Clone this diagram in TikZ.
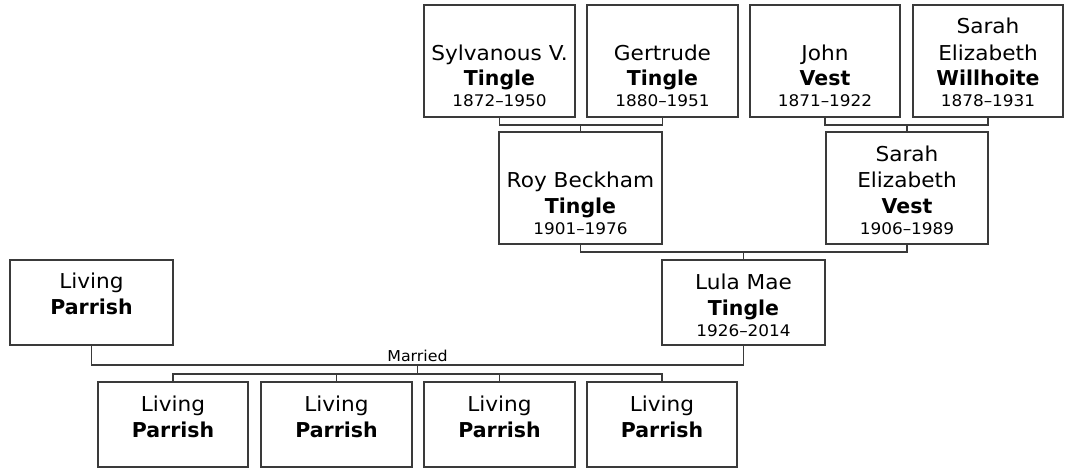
\documentclass[tikz,border=0pt]{standalone}
\usepackage{fontspec}
\setmainfont{DejaVu Sans}[FakeStretch=1.055, BoldFeatures={FakeStretch=1.0}]
\definecolor{lc}{RGB}{58,58,58}
\newcommand\yrfont{\fontsize{16}{21}\selectfont}
\newcommand\ptext[1]{\vbox{\baselineskip=26pt\lineskiplimit=-50pt\lineskip=0pt\halign{\hfil##\hfil\cr#1\crcr}}}
\newcommand\yline[1]{\noalign{\vskip-5pt}\yrfont #1}
\newcommand\card[5]{\node[card, minimum width=#4-#2, minimum height=#5-#3] (#1) at ({(#2+#4)/2},{(#3+#5)/2}) {};}
\begin{document}
\begin{tikzpicture}[x=1pt,y=-1pt,
  card/.style={draw=lc, line width=1.6pt, fill=white, inner sep=0pt, outer sep=0pt},
  wire/.style={draw=lc, line width=1.6pt},
  ntext/.style={anchor=base, inner sep=0pt, font=\fontsize{20.5}{26}\selectfont},
  lbl/.style={anchor=base, inner sep=0pt, font=\fontsize{15}{18}\selectfont}]
\useasboundingbox (0,0) rectangle (1066,468);
% cards
\card{syl}{424}{5}{575}{117}
\card{ger}{587}{5}{738}{117}
\card{john}{750}{5}{900}{117}
\card{will}{913}{5}{1063}{117}
\card{roy}{499}{132}{662}{244}
\card{sev}{826}{132}{988}{244}
\card{lula}{662}{260}{825}{345}
\card{lp}{10}{260}{173}{345}
\card{c1}{98}{382}{248}{467}
\card{c2}{261}{382}{412}{467}
\card{c3}{424}{382}{575}{467}
\card{c4}{587}{382}{737}{467}
% texts
\node[ntext] (syl-t) at ([yshift=10pt]syl.south) {\ptext{Sylvanous V.\cr\textbf{Tingle}\cr\yline{1872–1950}}};
\node[ntext] (ger-t) at ([yshift=10pt]ger.south) {\ptext{Gertrude\cr\textbf{Tingle}\cr\yline{1880–1951}}};
\node[ntext] (john-t) at ([yshift=10pt]john.south) {\ptext{John\cr\textbf{Vest}\cr\yline{1871–1922}}};
\node[ntext] (will-t) at ([yshift=10pt]will.south) {\ptext{Sarah\cr Elizabeth\cr\textbf{Willhoite}\cr\yline{1878–1931}}};
\node[ntext] (roy-t) at ([yshift=10pt]roy.south) {\ptext{Roy Beckham\cr\textbf{Tingle}\cr\yline{1901–1976}}};
\node[ntext] (sev-t) at ([yshift=10pt]sev.south) {\ptext{Sarah\cr Elizabeth\cr\textbf{Vest}\cr\yline{1906–1989}}};
\node[ntext] (lula-t) at ([yshift=9pt]lula.south) {\ptext{Lula Mae\cr\textbf{Tingle}\cr\yline{1926–2014}}};
\node[ntext] (lp-t) at ([yshift=31pt]lp.south) {\ptext{Living\cr\textbf{Parrish}}};
\node[ntext] (c1-t) at ([yshift=30pt]c1.south) {\ptext{Living\cr\textbf{Parrish}}};
\node[ntext] (c2-t) at ([yshift=30pt]c2.south) {\ptext{Living\cr\textbf{Parrish}}};
\node[ntext] (c3-t) at ([yshift=30pt]c3.south) {\ptext{Living\cr\textbf{Parrish}}};
\node[ntext] (c4-t) at ([yshift=30pt]c4.south) {\ptext{Living\cr\textbf{Parrish}}};
% junctions
\coordinate (pj1) at (580.5,125);
\coordinate (pj2) at (907,125);
\coordinate (pj3) at (743.5,252);
\coordinate (mj) at (417.5,365);
\coordinate (cb) at (417.5,374);
% connectors
\draw[wire] (syl.south) -- (syl.south |- pj1) -- (ger.south |- pj1) -- (ger.south);
\draw[wire] (pj1) -- (roy.north);
\draw[wire] (john.south) -- (john.south |- pj2) -- (will.south |- pj2) -- (will.south);
\draw[wire] (pj2) -- (sev.north);
\draw[wire] (roy.south) -- (roy.south |- pj3) -- (sev.south |- pj3) -- (sev.south);
\draw[wire] (pj3) -- (lula.north);
\draw[wire] (lp.south) -- (lp.south |- mj) -- (lula.south |- mj) -- (lula.south);
\node[lbl] (mar) at ([yshift=3.5pt]mj) {Married};
\draw[wire] (mj) -- (cb);
\draw[wire] (c1.north) -- (c1.north |- cb) -- (c4.north |- cb) -- (c4.north);
\draw[wire] (c2.north) -- (c2.north |- cb);
\draw[wire] (c3.north) -- (c3.north |- cb);
\end{tikzpicture}
\end{document}
